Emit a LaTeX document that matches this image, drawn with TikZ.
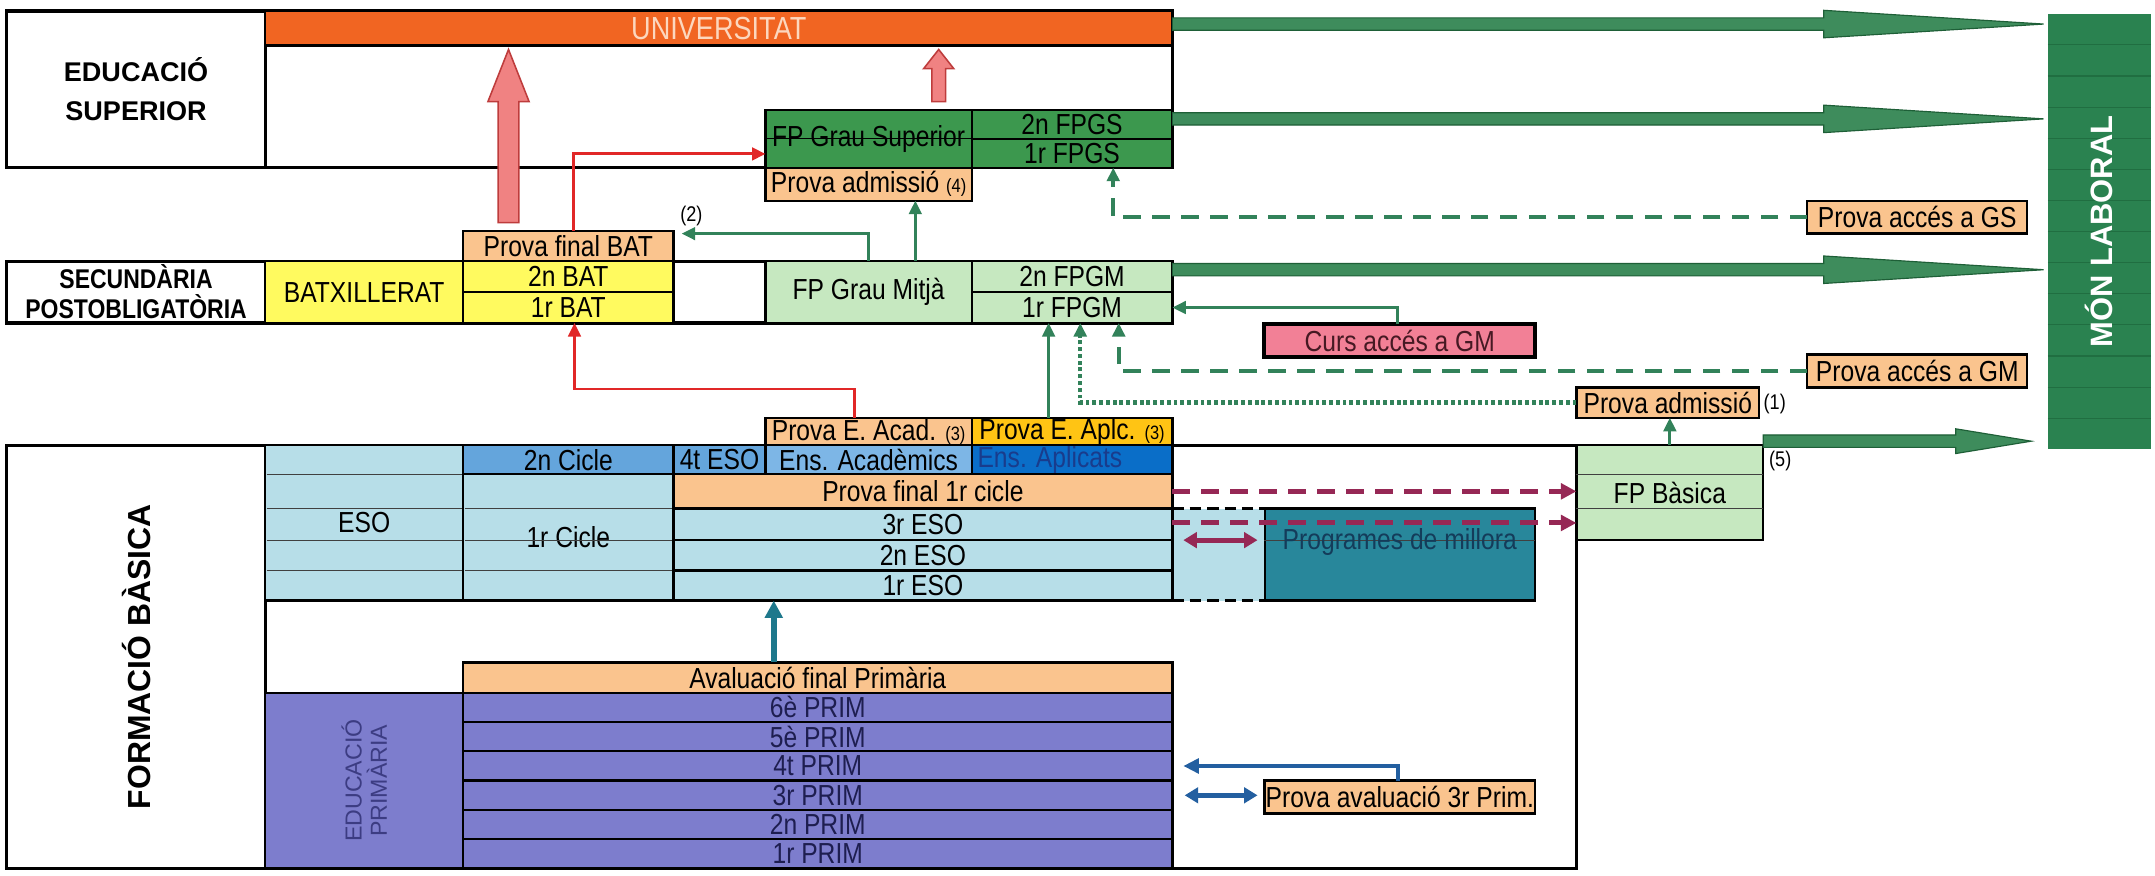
\documentclass[tikz,border=0pt]{standalone}
\usepackage{fontspec}
\setmainfont{Liberation Sans}
\newfontfamily\narrowf{Liberation Sans}[FakeStretch=0.85]
\usetikzlibrary{calc,arrows.meta}

\definecolor{orangebar}{RGB}{241,101,34}
\definecolor{unitext}{RGB}{252,215,190}
\definecolor{dgreen}{RGB}{60,152,78}
\definecolor{lgreen}{RGB}{198,232,192}
\definecolor{lorange}{RGB}{250,196,142}
\definecolor{yellowc}{RGB}{255,250,95}
\definecolor{goldc}{RGB}{255,196,20}
\definecolor{pinkc}{RGB}{242,128,150}
\definecolor{cursText}{RGB}{70,25,35}
\definecolor{lblue}{RGB}{183,222,232}
\definecolor{midblue}{RGB}{100,165,220}
\definecolor{acadblue}{RGB}{125,182,230}
\definecolor{aplblue}{RGB}{10,110,200}
\definecolor{aplText}{RGB}{25,60,140}
\definecolor{tealc}{RGB}{40,135,155}
\definecolor{progText}{RGB}{20,60,90}
\definecolor{periw}{RGB}{125,125,205}
\definecolor{primText}{RGB}{30,30,80}
\definecolor{primLab}{RGB}{60,60,130}
\definecolor{mongreen}{RGB}{42,130,80}
\definecolor{monline}{RGB}{32,110,65}
\definecolor{arrowgreen}{RGB}{62,140,92}
\definecolor{arrowdark}{RGB}{30,95,55}
\definecolor{linegreen}{RGB}{50,130,90}
\definecolor{redline}{RGB}{225,40,40}
\definecolor{maroonc}{RGB}{150,40,85}
\definecolor{blueline}{RGB}{35,95,160}
\definecolor{tealarrow}{RGB}{30,120,140}
\definecolor{pinkarrow}{RGB}{240,130,130}
\definecolor{pinkdark}{RGB}{190,60,60}

\newcommand\cellfont{\narrowf\fontsize{15}{16}\selectfont}
\newcommand\smallfnt{\fontsize{10}{11}\selectfont}
\newcommand\labfont{\bfseries\fontsize{14}{20}\selectfont}
\newcommand\seclabfont{\narrowf\bfseries\fontsize{14}{15.6}\selectfont}
\newcommand\unifont{\narrowf\fontsize{16.5}{17}\selectfont}
\newcommand\fbfont{\bfseries\fontsize{16.5}{18}\selectfont}
\newcommand\monfont{\bfseries\fontsize{16}{18}\selectfont}
\newcommand\primlabfont{\fontsize{12}{13}\selectfont}
\newcommand\annfont{\narrowf\fontsize{11}{12}\selectfont}

% cell: name, x1, y1, x2, y2, options, text
\newcommand\mkcell[7]{\node[cellbox,#6,minimum width={(#4-#2)*0.25mm},minimum height={(#5-#3)*0.25mm}] (#1) at ({(#2+#4)/2},{(#3+#5)/2}) {#7};}

% fat arrow upwards: from, to, shaft half width, head half width, head length, style
\newcommand\fatup[6]{\path[#6] let \p1=(#1), \p2=(#2) in
  ({\x1-#3*0.25mm},\y1) -- ({\x1-#3*0.25mm},{\y2-#5*0.25mm}) -- ({\x1-#4*0.25mm},{\y2-#5*0.25mm}) -- (\x1,\y2) -- ({\x1+#4*0.25mm},{\y2-#5*0.25mm}) -- ({\x1+#3*0.25mm},{\y2-#5*0.25mm}) -- ({\x1+#3*0.25mm},\y1) -- cycle;}
% fat arrow to the right
\newcommand\fatright[6]{\path[#6] let \p1=(#1), \p2=(#2) in
  (\x1,{\y1+#3*0.25mm}) -- ({\x2-#5*0.25mm},{\y1+#3*0.25mm}) -- ({\x2-#5*0.25mm},{\y1+#4*0.25mm}) -- (\x2,\y1) -- ({\x2-#5*0.25mm},{\y1-#4*0.25mm}) -- ({\x2-#5*0.25mm},{\y1-#3*0.25mm}) -- (\x1,{\y1-#3*0.25mm}) -- cycle;}

\begin{document}
\begin{tikzpicture}[x=0.25mm,y=-0.25mm,
  cellbox/.style={draw=black,line width=1.2pt,inner sep=0pt,outer sep=0pt,font=\cellfont,text=black},
  celltext/.style={inner sep=0pt,font=\cellfont},
  anntext/.style={inner sep=0pt,font=\annfont},
  gridline/.style={draw=black!75,line width=0.5pt},
  monl/.style={draw=monline,line width=0.6pt},
  fatgreen/.style={fill=arrowgreen,draw=arrowdark,line width=0.6pt},
  fatpink/.style={fill=pinkarrow,draw=pinkdark,line width=0.8pt},
  garrow/.style={draw=linegreen,line width=1.5pt,-{Triangle[length=7pt,width=6.5pt]}},
  gdash/.style={garrow,line width=2.3pt,dash pattern=on 9pt off 6pt},
  gdot/.style={garrow,line width=2.3pt,dash pattern=on 2pt off 1.5pt},
  rarrow/.style={draw=redline,line width=1.5pt,-{Triangle[length=7pt,width=6.5pt]}},
  mdash/.style={draw=maroonc,line width=2.6pt,dash pattern=on 9pt off 6pt,-{Triangle[length=8pt,width=8pt]}},
  mdouble/.style={draw=maroonc,line width=2.6pt,{Triangle[length=7pt,width=8pt]}-{Triangle[length=7pt,width=8pt]}},
  barrow/.style={draw=blueline,line width=2pt,-{Triangle[length=8pt,width=7.5pt]}},
  bdouble/.style={draw=blueline,line width=2.4pt,{Triangle[length=7pt,width=8pt]}-{Triangle[length=7pt,width=8pt]}},
  tarrow/.style={draw=tealarrow,line width=3pt,-{Triangle[length=9pt,width=9pt]}},
  blackdash/.style={draw=black,line width=1.5pt,dash pattern=on 6pt off 3pt}]
\useasboundingbox[fill=white] (0,0) rectangle (1568,637);

% ---------- EDUCACIO SUPERIOR ----------
\mkcell{sup}{5}{8}{853}{122}{fill=white,line width=1.6pt}{}
\mkcell{suplab}{5}{8}{193}{122}{fill=white,line width=1.6pt,font=\labfont,align=center}{EDUCACIÓ\\SUPERIOR}
\mkcell{univ}{193}{8}{853}{33}{fill=orangebar,text=unitext,font=\unifont}{UNIVERSITAT}
\mkcell{fpgs}{557}{80}{707}{122}{fill=dgreen}{FP Grau Superior}
\mkcell{fpgs2}{707}{80}{853}{101}{fill=dgreen}{2n FPGS}
\mkcell{fpgs1}{707}{101}{853}{122}{fill=dgreen}{1r FPGS}
\draw[line width=0.7pt] (fpgs.west) -- (fpgs.east);
\mkcell{padm4}{557}{122}{707}{146}{fill=lorange}{Prova admissió {\smallfnt(4)}}

% ---------- SECUNDARIA POSTOBLIGATORIA ----------
\mkcell{sec}{5}{190}{853}{235}{fill=white,line width=1.6pt}{}
\mkcell{seclab}{5}{190}{193}{235}{fill=white,line width=1.6pt,font=\seclabfont,align=center}{SECUNDÀRIA\\POSTOBLIGATÒRIA}
\mkcell{batx}{193}{190}{337}{235}{fill=yellowc}{BATXILLERAT}
\mkcell{pfbat}{337}{168}{490}{190}{fill=lorange}{Prova final BAT}
\mkcell{bat2}{337}{190}{490}{212.5}{fill=yellowc}{2n BAT}
\mkcell{bat1}{337}{212.5}{490}{235}{fill=yellowc}{1r BAT}
\mkcell{fpgm}{557}{190}{707}{235}{fill=lgreen}{FP Grau Mitjà}
\mkcell{fpgm2}{707}{190}{853}{212.5}{fill=lgreen}{2n FPGM}
\mkcell{fpgm1}{707}{212.5}{853}{235}{fill=lgreen}{1r FPGM}

% ---------- side boxes ----------
\mkcell{pags}{1315}{146}{1475}{170}{fill=lorange}{Prova accés a GS}
\mkcell{curs}{920}{236}{1117}{260}{fill=pinkc,line width=2pt,text=cursText}{Curs accés a GM}
\mkcell{pagm}{1315}{258}{1475}{282}{fill=lorange}{Prova accés a GM}
\mkcell{padm1}{1147}{282}{1280}{304}{fill=lorange}{Prova admissió}
\node[anntext,anchor=west] (n1) at ($(padm1.east)+(3,1)$) {(1)};

% ---------- FORMACIO BASICA ----------
\mkcell{fb}{5}{324}{1147}{632}{fill=white,line width=1.6pt}{}
\mkcell{fblab}{5}{324}{193}{632}{fill=white,line width=1.6pt}{}
\node[rotate=90,font=\fbfont,inner sep=0pt] (fbtext) at (fblab) {FORMACIÓ BÀSICA};
\mkcell{pacad}{557}{304}{707}{324}{fill=lorange}{Prova E. Acad. {\smallfnt(3)}}
\mkcell{paplc}{707}{304}{853}{324}{fill=goldc}{Prova E. Aplc. {\smallfnt(3)}}
\mkcell{eso}{193}{324}{337}{437}{fill=lblue}{ESO}
\mkcell{cicle2}{337}{324}{490}{345}{fill=midblue}{2n Cicle}
\mkcell{eso4}{490}{324}{557}{345}{fill=midblue}{4t ESO}
\mkcell{acad}{557}{324}{707}{345}{fill=acadblue}{Ens. Acadèmics}
\mkcell{aplic}{707}{324}{853}{345}{fill=aplblue}{}
\node[celltext,text=aplText,anchor=west] (aplict) at ($(aplic.west)+(4,0)$) {Ens. Aplicats};
\mkcell{cicle1}{337}{345}{490}{437}{fill=lblue}{1r Cicle}
\mkcell{pf1c}{490}{345}{853}{370}{fill=lorange}{Prova final 1r cicle}
\mkcell{eso3}{490}{370}{853}{393}{fill=lblue}{3r ESO}
\mkcell{eso2}{490}{393}{853}{415}{fill=lblue}{2n ESO}
\mkcell{eso1}{490}{415}{853}{437}{fill=lblue}{1r ESO}
\foreach \yy in {345,370,393,415} \draw[gridline] (194,\yy) -- (336,\yy);
\foreach \yy in {370,393,415} \draw[gridline] (338,\yy) -- (489,\yy);

\mkcell{prog}{920}{370}{1117}{437}{fill=tealc}{}
\fill[lblue] ($(eso3.north east)+(1.5,0)$) rectangle (prog.south west);
\draw[gridline] (prog.west |- eso2.north) -- (prog.east |- eso2.north);
\node[celltext,text=progText] (progt) at ($(prog.center)+(0,-9)$) {Programes de millora};
\draw[blackdash] (eso3.north east) -- (prog.north west);
\draw[blackdash] (eso1.south east) -- (prog.south west);

\mkcell{fpb}{1147}{324}{1283}{393}{fill=lgreen}{FP Bàsica}
\draw[gridline] ($(fpb.north west)+(0,21)$) -- ($(fpb.north east)+(0,21)$);
\draw[gridline] ($(fpb.north west)+(0,46)$) -- ($(fpb.north east)+(0,46)$);
\node[anntext,anchor=north west] (n5) at ($(fpb.north east)+(4,4)$) {(5)};

\mkcell{avfp}{337}{482}{853}{504}{fill=lorange}{Avaluació final Primària}
\mkcell{prim}{193}{504}{337}{632}{fill=periw}{}
\node[rotate=90,font=\primlabfont,text=primLab,align=center,inner sep=0pt] (primt) at (prim) {EDUCACIÓ\\PRIMÀRIA};
\mkcell{p6}{337}{504}{853}{525.33}{fill=periw,text=primText}{6è PRIM}
\mkcell{p5}{337}{525.33}{853}{546.67}{fill=periw,text=primText}{5è PRIM}
\mkcell{p4}{337}{546.67}{853}{568}{fill=periw,text=primText}{4t PRIM}
\mkcell{p3}{337}{568}{853}{589.33}{fill=periw,text=primText}{3r PRIM}
\mkcell{p2}{337}{589.33}{853}{610.67}{fill=periw,text=primText}{2n PRIM}
\mkcell{p1}{337}{610.67}{853}{632}{fill=periw,text=primText}{1r PRIM}
\mkcell{pa3}{920}{568}{1117}{592}{fill=lorange}{Prova avaluació 3r Prim.}

% ---------- MON LABORAL ----------
\mkcell{mon}{1490}{10}{1565}{327}{fill=mongreen,draw=none}{}
\foreach \i in {1,...,13} \draw[monl] (1490,{10+\i*22.64}) -- (1565,{10+\i*22.64});
\node[rotate=90,font=\monfont,text=white,inner sep=0pt] (mont) at (mon) {MÓN LABORAL};

% ---------- fat arrows ----------
\fatup{$(pfbat.north)+(-43.5,-6)$}{$(univ.south)+(-153,3)$}{7.5}{15}{38}{fatpink}
\fatup{$(fpgs.north)+(51,-6)$}{$(univ.south)+(160,3)$}{5}{11}{14}{fatpink}
\fatright{$(univ.east)+(0,-3)$}{$(univ.east -| mon.west)+(-3,-3)$}{4.5}{10}{160}{fatgreen}
\fatright{$(fpgs2.east)+(0,-4)$}{$(fpgs2.east -| mon.west)+(-3,-4)$}{4.5}{10}{160}{fatgreen}
\fatright{$(fpgm2.east)+(0,-5)$}{$(fpgm2.east -| mon.west)+(-3,-5)$}{4.5}{10}{160}{fatgreen}
\fatright{$(fpb.north east)+(0,-3)$}{$(fpb.north east -| mon.west)+(-12,-3)$}{4.5}{9}{55}{fatgreen}

% ---------- connectors ----------
\coordinate (c2) at (496,170);
\node[anntext] (n2) at (503,157) {(2)};
\draw[garrow] (fpgm.north) |- (c2);
\draw[garrow] ($(fpgm.north)+(34,0)$) -- ($(padm4.south)+(34,0)$);
\draw[gdash] (pags.west) -| ($(fpgs1.south)+(30,0)$);
\draw[garrow] ($(curs.north)+(-1.5,0)$) |- (fpgm1.east);
\draw[gdash] (pagm.west) -| ($(fpgm1.south)+(34,0)$);
\draw[gdot] (padm1.west) -| ($(fpgm1.south)+(6,0)$);
\draw[garrow] ($(paplc.north)+(-17,0)$) -- ($(fpgm1.south)+(-17,0)$);
\draw[garrow] (fpb.north) -- (fpb.north |- padm1.south);

\draw[rarrow] ($(pfbat.north)+(4,0)$) |- ($(fpgs.west)+(0,11)$);
\draw[rarrow] ($(pacad.north)+(-10,0)$) -- ++(0,-21) -| ($(bat1.south)+(4.5,0)$);

\draw[tarrow] ($(avfp.north)+(-32,0)$) -- ($(eso1.south)+(-108.5,0)$);

\draw[mdash] (pf1c.east) -- (pf1c.east -| fpb.west);
\draw[mdash] ($(eso3.east)+(0,-1)$) -- ($(eso3.east -| fpb.west)+(0,-1)$);
\draw[mdouble] ($(eso2.north east)+(8,0)$) -- ($(prog.west |- eso2.north)+(-5,0)$);

\draw[barrow] ($(pa3.north)+(-1.5,0)$) |- ($(p4.east)+(8,0)$);
\draw[bdouble] ($(p3.east)+(9,0)$) -- ($(pa3.west |- p3.east)+(-5,0)$);
\end{tikzpicture}
\end{document}
